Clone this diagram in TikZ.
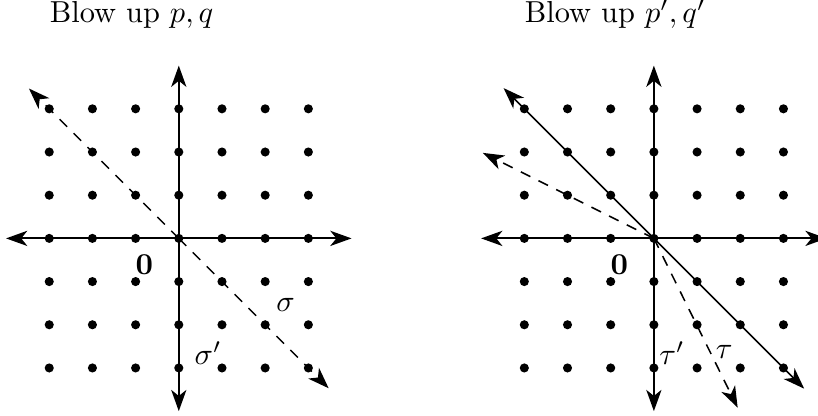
\documentclass[tikz,border=0pt]{standalone}
\usetikzlibrary{arrows.meta}
\begin{document}
\begin{tikzpicture}[x=0.5cm,y=0.5cm,
  ax/.style={line width=0.6pt,{Stealth[length=7pt,width=5pt,inset=2pt]}-{Stealth[length=7pt,width=5pt,inset=2pt]}},
  ray/.style={line width=0.5pt,-{Stealth[length=7pt,width=5pt,inset=2pt]}},
  dsh/.style={dash pattern=on 3.5pt off 3pt},
  dot/.style={circle,fill=black,inner sep=0pt,minimum size=3pt},
  ttl/.style={anchor=base west,inner sep=0pt},
  lbl/.style={inner sep=0pt}]
\useasboundingbox (-4.14,-4.09) rectangle (14.80,5.52);
% left panel
\foreach \i in {-3,...,3}{\foreach \j in {-3,...,3}{\node[dot] (L\i\j) at (\i,\j) {};}}
\coordinate (O1) at (0,0);
\coordinate (L1l) at (-4,0); \coordinate (L1r) at (4,0);
\coordinate (L1t) at (0,4); \coordinate (L1b) at (0,-4);
\coordinate (L1ul) at (-3.47,3.47); \coordinate (L1dr) at (3.47,-3.47);
\draw[ax] (L1l) -- (L1r);
\draw[ax] (L1b) -- (L1t);
\draw[ray,dsh] (O1) -- (L1ul);
\draw[ray,dsh] (O1) -- (L1dr);
\node[ttl] (T1) at (-3,5) {Blow up $p,q$};
\node[lbl] (Z1) at (-0.8,-0.62) {$\mathbf{0}$};
\node[lbl] (S1) at (2.47,-1.54) {$\sigma$};
\node[lbl] (S2) at (0.68,-2.65) {$\sigma'$};
% right panel
\begin{scope}[xshift=5.5cm]
\foreach \i in {-3,...,3}{\foreach \j in {-3,...,3}{\node[dot] (R\i\j) at (\i,\j) {};}}
\coordinate (O2) at (0,0);
\coordinate (R1l) at (-4,0); \coordinate (R1r) at (4,0);
\coordinate (R1t) at (0,4); \coordinate (R1b) at (0,-4);
\coordinate (R1ul) at (-3.48,3.48); \coordinate (R1dr) at (3.48,-3.48);
\coordinate (R1a) at (-3.96,1.98); \coordinate (R1c) at (1.94,-3.92);
\draw[ax] (R1l) -- (R1r);
\draw[ax] (R1b) -- (R1t);
\draw[ray] (O2) -- (R1ul);
\draw[ray] (O2) -- (R1dr);
\draw[ray,dsh] (O2) -- (R1a);
\draw[ray,dsh] (O2) -- (R1c);
\node[ttl] (T2) at (-3,5) {Blow up $p',q'$};
\node[lbl] (Z2) at (-0.8,-0.62) {$\mathbf{0}$};
\node[lbl] (U1) at (0.42,-2.65) {$\tau'$};
\node[lbl] (U2) at (1.63,-2.62) {$\tau$};
\end{scope}
\end{tikzpicture}
\end{document}
